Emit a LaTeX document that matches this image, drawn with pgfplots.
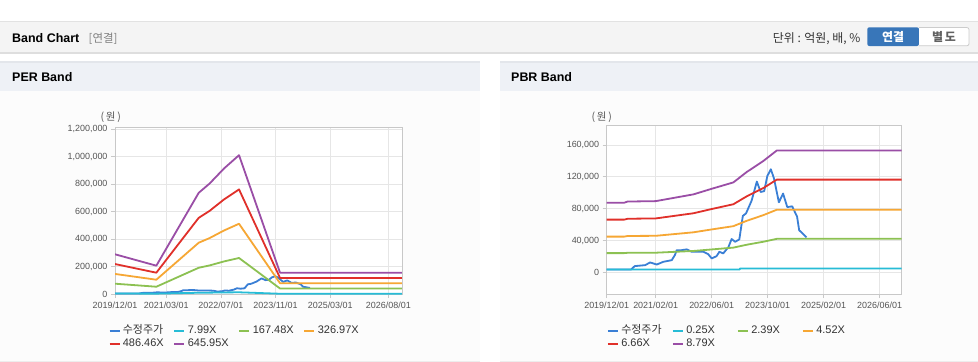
\documentclass[border=0pt]{standalone}
\usepackage{pgfplots}
\pgfplotsset{compat=1.18}
\usepackage{fontspec}
\setmainfont{Liberation Sans}
\newfontfamily\kr{Noto Sans CJK KR}
\definecolor{cBlue}{HTML}{3A7FD5}
\definecolor{cCyan}{HTML}{27BCD6}
\definecolor{cGreen}{HTML}{8CC152}
\definecolor{cOrange}{HTML}{F6A734}
\definecolor{cRed}{HTML}{E0302A}
\definecolor{cPurple}{HTML}{9A4EA6}
\definecolor{hdrBar}{HTML}{F4F4F4}
\definecolor{hdrLine}{HTML}{E2E2E2}
\definecolor{panelHdr}{HTML}{EEF1F6}
\definecolor{panelLine}{HTML}{E3E6EB}
\definecolor{panelBody}{HTML}{FCFCFC}
\definecolor{axGray}{HTML}{C8C8C8}
\definecolor{gridGray}{HTML}{E6E6E6}
\definecolor{labGray}{HTML}{555555}
\definecolor{btnBlue}{HTML}{3876B9}
\definecolor{txtDark}{HTML}{333333}

\pgfplotsset{
  bandaxis/.style={
    scale only axis, anchor=south west,
    xmin=0,
    axis background/.style={fill=white},
    axis line style={draw=axGray, line width=0.8bp},
    grid=major, major grid style={draw=gridGray, line width=0.7bp},
    tick align=outside, tick pos=left, major tick length=4bp,
    major tick style={draw=axGray, line width=0.8bp},
    tick label style={font=\fontsize{9}{10}\selectfont, text=labGray},
    /pgf/number format/assume math mode=true,
    yticklabel style={/pgf/number format/fixed, /pgf/number format/1000 sep={,}},
    scaled y ticks=false,
    every axis plot/.append style={line width=1.8bp, line join=round, mark=none},
    legend columns=4,
    legend cell align=left,
    legend image code/.code={\draw[#1, line width=2bp] (0bp,0bp) -- (10bp,0bp);},
    legend style={draw=none, fill=none, inner sep=0bp, anchor=north west,
      font=\fontsize{11}{12}\selectfont, text=txtDark, row sep=2.5bp,
      nodes={inner sep=0bp, text height=8bp, text depth=2.5bp},
      /tikz/every odd column/.append style={column sep=2.4bp}},
  },
}

\begin{document}
\begin{tikzpicture}
\path[use as bounding box] (0,0) rectangle (978bp,-362bp);
\begin{scope}[x=1bp,y=-1bp]
  \fill[white] (0,0) rectangle (978,362);
  % header bar
  \fill[hdrBar] (0,21) rectangle (978,52);
  \draw[hdrLine, line width=1.2] (0,21.6) -- (978,21.6);
  \fill[black!13] (0,52) rectangle (978,53.5);
  \node[anchor=west, font=\fontsize{12.5}{14}\selectfont\bfseries, inner sep=0] at (12,38.5) {Band Chart};
  \node[anchor=west, font=\kr\fontsize{11.5}{13}\selectfont, text=black!50, inner sep=0] at (88.5,38.5) {[연결]};
  \node[anchor=east, font=\kr\fontsize{12}{14}\selectfont, text=txtDark, inner sep=0] at (860.7,38.5) {단위 : 억원, 배, \%};
  \fill[btnBlue, rounded corners=2] (867.3,27.3) rectangle (919,46);
  \node[font=\kr\fontsize{12}{14}\selectfont\bfseries, text=white, inner sep=0] at (893.2,36.9) {연결};
  \draw[black!20, fill=white, line width=0.8] (919,27.6) -- (967,27.6) [rounded corners=2] -- (969,27.6) -- (969,45.7) -- (919,45.7);
  \node[font=\kr\fontsize{12}{14}\selectfont\bfseries, text=black!62, inner sep=0] at (944,36.9) {별\,도};
  % panels
  \fill[panelHdr] (0,61.7) rectangle (480,90.7);
  \fill[panelHdr] (500,61.7) rectangle (978,90.7);
  \draw[panelLine, line width=1.5] (0,62.2) -- (480,62.2) (500,62.2) -- (978,62.2);
  \fill[panelBody] (0,90.7) rectangle (480,361);
  \fill[panelBody] (500,90.7) rectangle (978,361);
  \draw[black!7, line width=1] (0,361.5) -- (480,361.5) (500,361.5) -- (978,361.5);
  \node[anchor=west, font=\fontsize{12.5}{14}\selectfont\bfseries, inner sep=0] at (12,77.5) {PER Band};
  \node[anchor=west, font=\fontsize{12.5}{14}\selectfont\bfseries, inner sep=0] at (511,77.5) {PBR Band};
  \node[font=\kr\fontsize{10.5}{12}\selectfont, text=labGray, inner sep=0] at (110.8,117.5) {(\,원\,)};
  \node[font=\kr\fontsize{10.5}{12}\selectfont, text=labGray, inner sep=0] at (601.7,117.5) {(\,원\,)};
\end{scope}

% ---------------- PER Band ----------------
\begin{axis}[bandaxis, at={(115bp,-294bp)}, width=287bp, height=167bp,
  xmax=84, ymin=0, ymax=1215000,
  xtick={0,15,31,47,63,80},
  xticklabels={2019/12/01,2021/03/01,2022/07/01,2023/11/01,2025/03/01,2026/08/01},
  ytick={0,200000,400000,600000,800000,1000000,1200000},
  legend style={at={(axis description cs:0,0)}, xshift=-6.7bp, yshift=-31.3bp}]
\addplot[cBlue] coordinates {(0,3800) (7,3800) (8,8000) (11,9200) (12.4,12600) (14.3,10000) (16.2,13400) (18.6,15500) (19.5,22000) (20,28000) (21.4,28000) (22.9,29000) (24.3,26000) (27.6,26000) (29,23000) (30,17600) (31.4,20500) (32.2,26000) (33.3,23900) (34.8,32000) (35.7,42000) (36.7,38500) (37.9,41500) (38.9,71000) (39.8,74000) (41.4,90000) (42.9,114000) (44,101000) (45,102000) (45.9,121000) (46.9,129500) (47.8,118000) (49.2,88000) (50.4,99000) (51.6,82000) (53,83000) (54.4,70000) (55,53000) (56.2,48000) (57.1,44000)};
\addlegendentry{\makebox[50.6bp][l]{\kr 수정주가}}
\addplot[cCyan] coordinates {(0,3600) (12.1,2500) (24.5,9100) (27.7,9900) (31.9,11300) (36.3,12500) (48.3,1900) (84,1900)};
\addlegendentry{\makebox[50.6bp][l]{7.99X}}
\addplot[cGreen] coordinates {(0,75000) (12.1,53000) (24.5,191000) (27.7,208000) (31.9,237000) (36.3,262000) (48.3,40000) (84,40000)};
\addlegendentry{\makebox[50.6bp][l]{167.48X}}
\addplot[cOrange] coordinates {(0,146000) (12.1,104000) (24.5,373000) (27.7,407000) (31.9,462000) (36.3,511000) (48.3,78500) (84,78500)};
\addlegendentry{\makebox[50.6bp][l]{326.97X}}
\addplot[cRed] coordinates {(0,218000) (12.1,155000) (24.5,554000) (27.7,605000) (31.9,688000) (36.3,761000) (48.3,117000) (84,117000)};
\addlegendentry{\makebox[50.6bp][l]{486.46X}}
\addplot[cPurple] coordinates {(0,289000) (12.1,206000) (24.5,736000) (27.7,804000) (31.9,913000) (36.3,1010000) (48.3,155000) (84,155000)};
\addlegendentry{\makebox[50.6bp][l]{645.95X}}
\end{axis}

% ---------------- PBR Band ----------------
\begin{axis}[bandaxis, at={(606.7bp,-294bp)}, width=295bp, height=169bp,
  xmax=84.3, ymin=-27000, ymax=185000,
  xtick={0,14,30,46,62,78},
  xticklabels={2019/12/01,2021/02/01,2022/06/01,2023/10/01,2025/02/01,2026/06/01},
  ytick={0,40000,80000,120000,160000},
  legend style={at={(axis description cs:0,0)}, xshift=0bp, yshift=-31.3bp}]
\addplot[cBlue] coordinates {(0,3800) (7,3800) (8,8000) (11,9200) (12.4,12600) (14.3,10000) (16.2,13400) (18.6,15500) (19.5,22000) (20,28000) (21.4,28000) (22.9,29000) (24.3,26000) (27.6,26000) (29,23000) (30,17600) (31.4,20500) (32.2,26000) (33.3,23900) (34.8,32000) (35.7,42000) (36.7,38500) (37.9,41500) (38.9,71000) (39.8,74000) (41.4,90000) (42.9,114000) (44,101000) (45,102000) (45.9,121000) (46.9,129500) (47.8,118000) (49.2,88000) (50.4,99000) (51.6,82000) (53,83000) (54.4,70000) (55,53000) (56.2,48000) (57.1,44000)};
\addlegendentry{\makebox[50.6bp][l]{\kr 수정주가}}
\addplot[cCyan] coordinates {(0,3800) (38,3800) (38.1,5000) (84.3,5000)};
\addlegendentry{\makebox[50.6bp][l]{0.25X}}
\addplot[cGreen] coordinates {(0,24300) (5,24300) (6,24700) (14,24800) (24.8,27000) (30,28900) (36.2,31200) (40,34800) (44.8,38600) (48.6,42200) (84.3,42200)};
\addlegendentry{\makebox[50.6bp][l]{2.39X}}
\addplot[cOrange] coordinates {(0,45000) (5,45000) (6,45800) (14,46000) (24.8,50400) (30,54000) (36.2,58100) (40,64800) (44.8,72000) (48.6,78700) (84.3,78700)};
\addlegendentry{\makebox[50.6bp][l]{4.52X}}
\addplot[cRed] coordinates {(0,66300) (5,66300) (6,67400) (14,67800) (24.8,74300) (30,79600) (36.2,85600) (40,95500) (44.8,106000) (48.6,116500) (84.3,116500)};
\addlegendentry{\makebox[50.6bp][l]{6.66X}}
\addplot[cPurple] coordinates {(0,87500) (5,87500) (6,89000) (14,89500) (24.8,98000) (30,105000) (36.2,113000) (40,126000) (44.8,140000) (48.6,153000) (84.3,153000)};
\addlegendentry{\makebox[50.6bp][l]{8.79X}}
\end{axis}
\end{tikzpicture}
\end{document}
